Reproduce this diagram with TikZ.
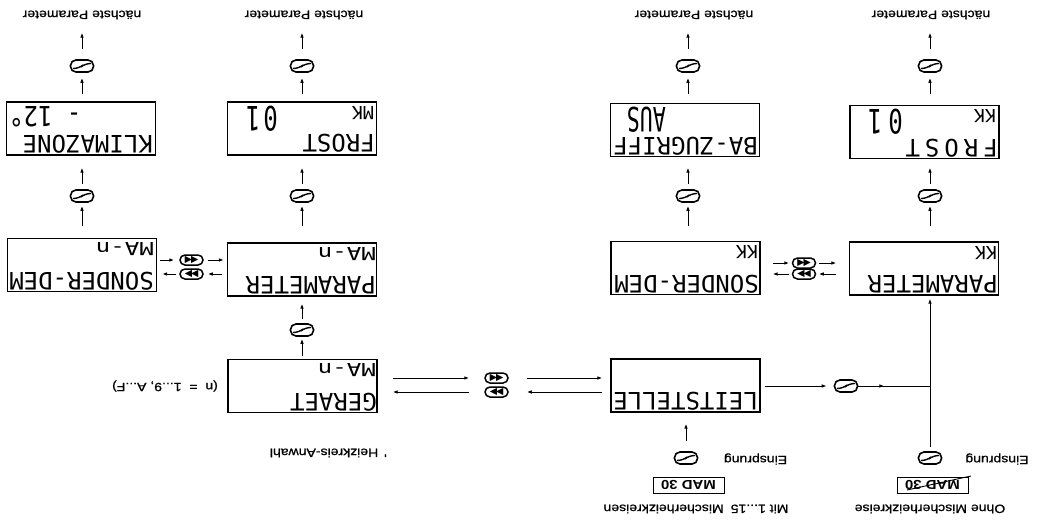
\documentclass[tikz,border=0pt]{standalone}
\usepackage{fontspec}
\setmainfont{Liberation Sans}
\newfontfamily\lblfont[FakeBold=0.8]{Liberation Sans}
\newfontfamily\lcdfont{DejaVu Sans Mono}
\newfontfamily\symfont{DejaVu Sans}
\usetikzlibrary{arrows.meta,decorations.markings}
\newcommand\xwide[1]{\scalebox{1.17}[1]{#1}}
\begin{document}
\begin{tikzpicture}[x=1pt,y=1pt]
\useasboundingbox (0,0) rectangle (1037,-522);
\fill[white] (0,0) rectangle (1037,-522);
\begin{scope}[shift={(1037,0)}, rotate=180, transform shape,
  lcdbox/.style={draw, line width=1.3pt, minimum width=149pt, minimum height=53pt, inner sep=0pt},
  lcd/.style={inner sep=0pt, anchor=base west, font=\lcdfont\fontsize{24}{24}\selectfont},
  lcdsmall/.style={inner sep=0pt, anchor=base west, font=\lcdfont\fontsize{18}{18}\selectfont},
  lbl/.style={inner sep=0pt, font=\lblfont\fontsize{12}{14}\selectfont},
  madbox/.style={draw, line width=1pt, minimum width=71pt, minimum height=16pt, inner sep=0pt, font=\bfseries\fontsize{13}{13}\selectfont},
  pkey/.style={draw, line width=1.6pt, rounded corners=5.5pt, minimum width=23pt, minimum height=12pt, inner sep=0pt,
    path picture={\draw[line width=1.4pt]
      ([shift={(-9pt,-2.5pt)}]path picture bounding box.center) --
      ([shift={(-3pt,-2.5pt)}]path picture bounding box.center) --
      ([shift={(3pt,2.5pt)}]path picture bounding box.center) --
      ([shift={(9pt,2.5pt)}]path picture bounding box.center);}},
  ffkey/.style={draw, line width=1.5pt, rounded corners=5pt, minimum width=23pt, minimum height=10pt, inner sep=0pt, font=\symfont\fontsize{9.5}{9.5}\selectfont},
  arr/.style={line width=1pt, -{Latex[length=5pt,width=3.6pt]}},
  plain/.style={line width=1pt}
]
% ---------- LCD boxes ----------
\node[lcdbox] (A2) at (956,128.5) {};
\node[lcdbox] (B2) at (735,128.5) {};
\node[lcdbox] (C2) at (352,130) {};
\node[lcdbox] (D2) at (112.5,132) {};
\node[lcdbox] (A3) at (955,265) {};
\node[lcdbox] (B3) at (735,269.5) {};
\node[lcdbox] (C3) at (351.5,268) {};
\node[lcdbox] (D3) at (113,268.5) {};
\node[lcdbox] (B4) at (734.5,386) {};
\node[lcdbox] (C4) at (351.5,385.5) {};
% ---------- LCD texts ----------
\node[lcd] (tA2) at (884,135.5) {KLIMAZONE};
\node[lcd, anchor=base east] (vA2) at (1028,106) {\scalebox{1}[1.15]{- 12°}};
\node[lcd] (tB2) at (662,134.5) {FROST};
\node[lcdsmall] (sB2) at (663,106.5) {MK};
\node[lcd] (vB2) at (759,106.5) {\scalebox{1}[1.4]{0\kern3pt1}};
\node[lcd] (tC2) at (279,137) {BA-ZUGRIFF};
\node[lcd] (vC2) at (371,107.5) {\scalebox{0.9}[1.4]{AUS}};
\node[lcd] (tD2) at (39,139) {F\kern5pt R\kern5pt O\kern5pt S\kern5pt T};
\node[lcdsmall] (sD2) at (41,109.5) {KK};
\node[lcd] (vD2) at (134,109.5) {\scalebox{1}[1.4]{0\kern6pt1}};
\node[lcd] (tA3) at (883,272) {SONDER-DEM};
\node[lcd] (sA3) at (883,242.5) {\scalebox{1}[0.75]{MA-n}};
\node[lcd] (tB3) at (661,276.5) {PARAMETER};
\node[lcd] (sB3) at (661,247) {\scalebox{1}[0.75]{MA-n}};
\node[lcd] (tC3) at (278,275) {SONDER-DEM};
\node[lcdsmall] (sC3) at (279,245.5) {KK};
\node[lcd] (tD3) at (39,275.5) {PARAMETER};
\node[lcdsmall] (sD3) at (40,246) {KK};
\node[lcd] (tB4) at (660,393) {GERAET};
\node[lcd] (sB4) at (661,363.5) {\scalebox{1}[0.75]{MA-n}};
\node[lcd] (tC4) at (279,392.5) {LEITSTELLE};
% ---------- keys ----------
\node[pkey] (kA1) at (955,66) {};
\node[pkey] (kA2) at (955,196) {};
\node[pkey] (kB1) at (735,66) {};
\node[pkey] (kB2) at (735,196) {};
\node[pkey] (kB3) at (735,330) {};
\node[pkey] (kC1) at (349,66) {};
\node[pkey] (kC2) at (349,196) {};
\node[pkey] (kD1) at (107,66) {};
\node[pkey] (kD2) at (107,196) {};
\node[pkey] (kCE) at (351,458) {};
\node[pkey] (kDE) at (107,458) {};
\node[pkey] (kCD) at (191,386) {};
\node[ffkey] (kAB1) at (845.5,260) {◀\kern-1pt◀};
\node[ffkey] (kAB2) at (845.5,274) {▶\kern-1pt▶};
\node[ffkey] (kCD1) at (233,263) {◀\kern-1pt◀};
\node[ffkey] (kCD2) at (233,274) {▶\kern-1pt▶};
\node[ffkey] (kBC1) at (540.5,378) {◀\kern-1pt◀};
\node[ffkey] (kBC2) at (540.5,392) {▶\kern-1pt▶};
% ---------- labels ----------
\node[lbl] (nA) at (955,15) {\xwide{nächste Parameter}};
\node[lbl] (nB) at (733,15) {\xwide{nächste Parameter}};
\node[lbl] (nC) at (343,15) {\xwide{nächste Parameter}};
\node[lbl] (nD) at (106,15) {\xwide{nächste Parameter}};
\node[lbl] (nrange) at (872,386) {\xwide{(n\ \ =\ \ 1...9, A...F)}};
\node[lbl, anchor=west] (hzk) at (650,453) {\xwide{\textquotesingle\hspace{5pt}Heizkreis-Anwahl}};
\node[lbl] (einL) at (281.5,459) {\xwide{Einsprung}};
\node[lbl] (einR) at (40,459) {\xwide{Einsprung}};
\node[madbox] (madL) at (348.5,485) {\scalebox{1.15}[1]{MAD 30}};
\node[madbox] (madR) at (104.5,485) {\scalebox{1.15}[1]{MAD 30}};
\draw[line width=0.9pt] (130,490) -- (66,476);
\node[lbl] (mitT) at (341,509) {\xwide{Mit 1...15\enspace Mischerheizkreisen}};
\node[lbl] (ohneT) at (107,509) {\xwide{Ohne Mischerheizkreise}};
% ---------- vertical chains ----------
\draw[arr, shorten <=11.5pt, shorten >=3pt] (A3.south -| kA2) -- (kA2);
\draw[arr, shorten <=5pt, shorten >=12pt] (kA2) -- (A2.north -| kA2);
\draw[arr, shorten <=7pt, shorten >=5pt] (A2.south -| kA1) -- (kA1);
\draw[arr, shorten <=10pt, shorten >=13pt] (kA1) -- (nA.north -| kA1);
\draw[arr, shorten <=2.5pt, shorten >=2pt] (B4.south -| kB3) -- (kB3);
\draw[arr, shorten <=4pt, shorten >=7pt] (kB3) -- (B3.north -| kB3);
\draw[arr, shorten <=16pt, shorten >=3pt] (B3.south -| kB2) -- (kB2);
\draw[arr, shorten <=5pt, shorten >=12pt] (kB2) -- (B2.north -| kB2);
\draw[arr, shorten <=7pt, shorten >=5pt] (B2.south -| kB1) -- (kB1);
\draw[arr, shorten <=10pt, shorten >=13pt] (kB1) -- (nB.north -| kB1);
\draw[arr, shorten <=10pt, shorten >=11pt] (kCE) -- (C4.north -| kCE);
\draw[arr, shorten <=14.5pt, shorten >=3pt] (C3.south -| kC2) -- (kC2);
\draw[arr, shorten <=5pt, shorten >=10.5pt] (kC2) -- (C2.north -| kC2);
\draw[arr, shorten <=8.5pt, shorten >=5pt] (C2.south -| kC1) -- (kC1);
\draw[arr, shorten <=10pt, shorten >=13pt] (kC1) -- (nC.north -| kC1);
\draw[arr, shorten <=4pt, shorten >=3pt] (kDE) -- (D3.north -| kDE);
\draw[arr, shorten <=15pt, shorten >=3pt] (D3.south -| kD2) -- (kD2);
\draw[arr, shorten <=5pt, shorten >=8.5pt] (kD2) -- (D2.north -| kD2);
\draw[arr, shorten <=10.5pt, shorten >=5pt] (D2.south -| kD1) -- (kD1);
\draw[arr, shorten <=10pt, shorten >=13pt] (kD1) -- (nD.north -| kD1);
% ---------- LEITSTELLE to PARAMETER KK ----------
\coordinate (J) at (kDE |- kCD);
\draw[arr, shorten <=4pt, shorten >=7pt] (C4.west |- kCD) -- (kCD);
\draw[plain, postaction={decorate}, decoration={markings, mark=at position 26pt with {\arrow{Latex[length=5pt,width=3.6pt]}}}] (kCD) -- (J);
% ---------- horizontal pairs ----------
\draw[arr, shorten <=3pt, shorten >=5pt] (A3.west |- kAB1) -- (kAB1);
\draw[arr, shorten <=4pt, shorten >=3pt] (kAB1) -- (B3.east |- kAB1);
\draw[arr, shorten <=5pt, shorten >=4pt] (B3.east |- kAB2) -- (kAB2);
\draw[arr, shorten <=3pt, shorten >=5pt] (kAB2) -- (A3.west |- kAB2);
\draw[arr, shorten <=12pt, shorten >=2.5pt] (C3.west |- kCD1) -- (kCD1);
\draw[arr, shorten <=2.5pt, shorten >=12.5pt] (kCD1) -- (D3.east |- kCD1);
\draw[arr, shorten <=12.5pt, shorten >=2.5pt] (D3.east |- kCD2) -- (kCD2);
\draw[arr, shorten <=2.5pt, shorten >=12pt] (kCD2) -- (C3.west |- kCD2);
\draw[arr, shorten <=15pt, shorten >=15pt] (B4.west |- kBC1) -- (kBC1);
\draw[arr, shorten <=18pt, shorten >=8pt] (kBC1) -- (C4.east |- kBC1);
\draw[arr, shorten <=8pt, shorten >=18pt] (C4.east |- kBC2) -- (kBC2);
\draw[arr, shorten <=15pt, shorten >=15pt] (kBC2) -- (B4.west |- kBC2);
\end{scope}
\end{tikzpicture}
\end{document}
